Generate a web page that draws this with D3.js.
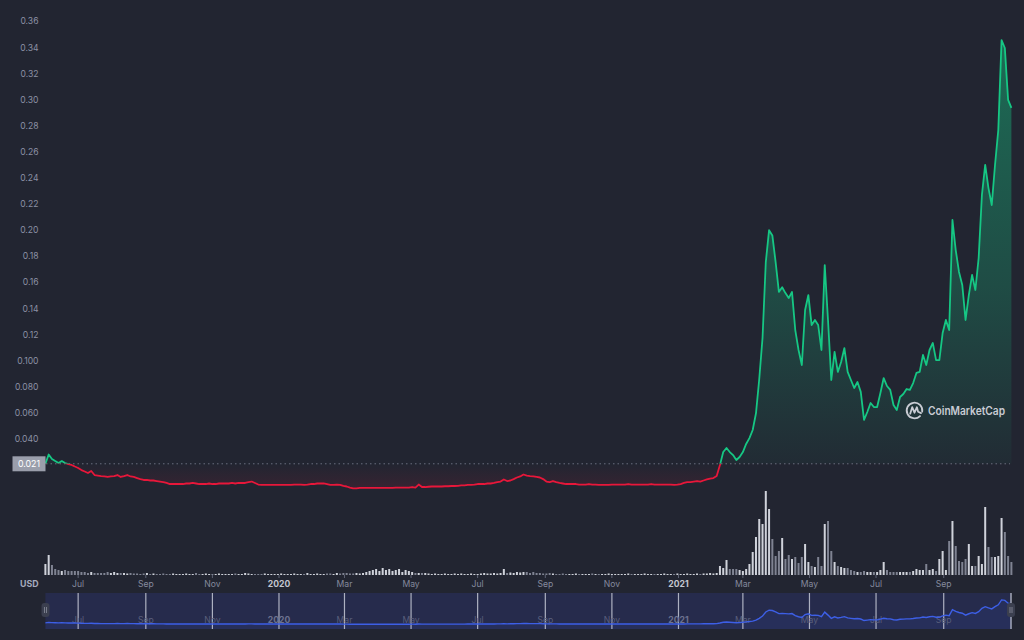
<!DOCTYPE html>
<html><head><meta charset="utf-8">
<script src="https://cdn.jsdelivr.net/npm/d3@7"></script>
<style>html,body{margin:0;padding:0;background:#222531;overflow:hidden}</style>
</head><body>
<svg id="c" width="1024" height="640"></svg>
<script>
// ---------- DATA ----------
const startDate = "2019-06-01";
const stepDays = 3;
const baselinePrice = 0.021;
const baselineLabel = "0.021";
const currency = "USD";
const brand = "CoinMarketCap";

const prices = [
0.0210,0.0281,0.0247,0.0231,0.0216,0.0231,0.0216,0.0208,0.0201,0.0189,
0.0178,0.0162,0.0151,0.0139,0.0155,0.0124,0.0120,0.0116,0.0113,0.0109,
0.0113,0.0116,0.0124,0.0109,0.0116,0.0124,0.0113,0.0109,0.0101,0.0093,
0.0086,0.0086,0.0082,0.0082,0.0078,0.0074,0.0070,0.0063,0.0055,0.0055,
0.0055,0.0055,0.0055,0.0059,0.0059,0.0063,0.0059,0.0055,0.0055,0.0055,
0.0059,0.0055,0.0055,0.0059,0.0059,0.0059,0.0059,0.0063,0.0059,0.0063,
0.0063,0.0063,0.0070,0.0074,0.0063,0.0051,0.0048,0.0048,0.0048,0.0048,
0.0048,0.0048,0.0048,0.0048,0.0048,0.0048,0.0051,0.0051,0.0051,0.0048,
0.0051,0.0055,0.0055,0.0059,0.0059,0.0060,0.0055,0.0048,0.0048,0.0051,
0.0048,0.0040,0.0036,0.0028,0.0021,0.0021,0.0025,0.0025,0.0025,0.0025,
0.0025,0.0025,0.0025,0.0025,0.0025,0.0025,0.0025,0.0028,0.0028,0.0028,
0.0028,0.0028,0.0032,0.0028,0.0051,0.0032,0.0032,0.0034,0.0036,0.0036,
0.0036,0.0036,0.0038,0.0038,0.0040,0.0040,0.0041,0.0044,0.0044,0.0048,
0.0048,0.0051,0.0055,0.0055,0.0055,0.0059,0.0059,0.0063,0.0070,0.0074,
0.0090,0.0078,0.0082,0.0093,0.0105,0.0113,0.0128,0.0120,0.0116,0.0113,
0.0109,0.0105,0.0093,0.0074,0.0070,0.0078,0.0070,0.0063,0.0059,0.0055,
0.0055,0.0055,0.0055,0.0051,0.0051,0.0051,0.0055,0.0051,0.0051,0.0048,
0.0048,0.0048,0.0048,0.0051,0.0051,0.0051,0.0051,0.0051,0.0055,0.0051,
0.0051,0.0051,0.0051,0.0051,0.0051,0.0055,0.0051,0.0051,0.0051,0.0051,
0.0051,0.0051,0.0048,0.0051,0.0055,0.0063,0.0070,0.0070,0.0074,0.0078,
0.0074,0.0082,0.0090,0.0097,0.0101,0.0116,0.0201,0.0300,0.0331,0.0300,
0.0277,0.0239,0.0262,0.0300,0.0362,0.0407,0.0469,0.0597,0.0860,0.1174,
0.1756,0.2000,0.1960,0.1756,0.1527,0.1563,0.1518,0.1480,0.1527,0.1235,
0.1082,0.0967,0.1389,0.1503,0.1273,0.1312,0.1273,0.1082,0.1733,0.1310,
0.0852,0.1067,0.0914,0.0990,0.1097,0.0914,0.0852,0.0791,0.0837,0.0761,
0.0546,0.0607,0.0676,0.0645,0.0645,0.0753,0.0867,0.0806,0.0776,0.0661,
0.0622,0.0722,0.0745,0.0783,0.0776,0.0829,0.0906,0.0914,0.1044,0.0967,
0.1082,0.1136,0.1005,0.1005,0.1212,0.1312,0.1235,0.2078,0.1848,0.1680,
0.1580,0.1312,0.1503,0.1657,0.1542,0.1787,0.2270,0.2500,0.2323,0.2193,
0.2500,0.2768,0.3457,0.3396,0.2998,0.2937
];

// traded volume, relative units
const volumes = [
11,20,10,6,5,4,5,4,4,4,
4,3,3,2,3,2,2,2,2,3,
2,3,2,2,2,1.5,2,1.5,1.5,1,
1.5,2,1,1.5,1,1,1.5,1,1,1.5,
1,1,1,1.5,1,1,2,1,1,1.5,
1,1,1,1.5,1,1,1,1,1.5,1,
1,2,1.5,1,1,1,1,1.5,1,1,
1,1,1.5,1,1,1,1.5,1,1,1,
2,1,1,1.5,1,1,1.5,1.5,1,2,
1.5,2,2,1.5,1.5,2,1.5,2,3,4,
5,6,4,7,5,6,4,5,6,3,
5,4,3,2,2,2,2,1.5,1,1.5,
1,1,1.5,1,1,1.5,1,1.5,1,1,
1.5,1,1,1.5,2,1.5,1.5,2,1.5,2,
6,2,2.5,2,3,2.5,3,3,2,3,
2,2,1.5,1.5,2,1.5,1,1,1.5,1,
1,1,1.5,1,1,1,1,1.5,1,1,
1,1,1.5,1,1,1,1,1,1.5,1,
1,1,1,1.5,1,1,1,1,1,1.5,
1,1,1,1.5,1,1,1.5,1,1,1.5,
1,1.5,1.5,2,1.5,2,9,7,15,6,
6,6,5,4,6,11,23,38,56,51,
84,66,36,19,24,37,16,20,16,18,
12,18,31,13,9,8,18,9,51,54,
24,13,9,8,7,7,5,4,3,3,
4,3,3,3,3,5,13,5,3,3,
3,3,3,3,3,4,6,5,5,11,
5,6,4,16,24,5,34,54,29,14,
13,16,31,9,9,19,11,68,28,18,
18,19,57,43,19,13
];

const yTickValues = [0.04,0.06,0.08,0.10,0.12,0.14,0.16,0.18,0.20,0.22,0.24,0.26,0.28,0.30,0.32,0.34,0.36];
const yTickLabels = ["0.040","0.060","0.080","0.100","0.12","0.14","0.16","0.18","0.20","0.22","0.24","0.26","0.28","0.30","0.32","0.34","0.36"];
const xTickDates = ["2019-07-01","2019-09-01","2019-11-01","2020-01-01","2020-03-01","2020-05-01","2020-07-01","2020-09-01","2020-11-01","2021-01-01","2021-03-01","2021-05-01","2021-07-01","2021-09-01"];
const xTickLabels = ["Jul","Sep","Nov","2020","Mar","May","Jul","Sep","Nov","2021","Mar","May","Jul","Sep"];
const xTickBold = [false,false,false,true,false,false,false,false,false,true,false,false,false,false];

// ---------- CHART ----------
const parse = d3.utcParse("%Y-%m-%d");
const t0 = parse(startDate);
const data = prices.map((p,i)=>({date:d3.utcDay.offset(t0, i*stepDays), price:p, vol:volumes[i], up: i===0 ? true : p>=prices[i-1]}));

const svg = d3.select("#c");
const FONT = "Inter, 'Noto Sans', sans-serif";
const GREEN = "#16c784", RED = "#e8173a";
svg.append("rect").attr("width",1024).attr("height",640).attr("fill","#222531");

const x = d3.scaleUtc().domain([parse("2019-06-01"), parse("2021-11-01")]).range([45.4, 1010.3]);
const y = d3.scaleLinear().domain([0.04, 0.36]).range([439, 21.4]);
const vy = d3.scaleLinear().domain([0, 100]).range([575, 475]);
const baseY = y(baselinePrice);

const defs = svg.append("defs");
const gG = defs.append("linearGradient").attr("id","gGreen").attr("gradientUnits","userSpaceOnUse")
  .attr("x1",0).attr("x2",0).attr("y1",y(0.36)).attr("y2",baseY);
gG.append("stop").attr("offset","0").attr("stop-color",GREEN).attr("stop-opacity",0.45);
gG.append("stop").attr("offset","0.6").attr("stop-color",GREEN).attr("stop-opacity",0.24);
gG.append("stop").attr("offset","1").attr("stop-color",GREEN).attr("stop-opacity",0.04);
const gR = defs.append("linearGradient").attr("id","gRed").attr("gradientUnits","userSpaceOnUse")
  .attr("x1",0).attr("x2",0).attr("y1",baseY).attr("y2",y(0));
gR.append("stop").attr("offset","0").attr("stop-color",RED).attr("stop-opacity",0.0);
gR.append("stop").attr("offset","1").attr("stop-color",RED).attr("stop-opacity",0.12);
defs.append("clipPath").attr("id","above").append("rect").attr("x",0).attr("y",0).attr("width",1024).attr("height",baseY);
defs.append("clipPath").attr("id","below").append("rect").attr("x",0).attr("y",baseY).attr("width",1024).attr("height",200);

// volume bars
svg.append("g").selectAll("rect").data(data).join("rect")
  .attr("x", d=>x(d.date)-1).attr("width",2)
  .attr("y", d=>vy(d.vol)).attr("height", d=>vy(0)-vy(d.vol))
  .attr("fill", d=>d.up ? "#cfd2da" : "#7f8392");

// areas
const area = d3.area().x(d=>x(d.date)).y0(baseY).y1(d=>y(d.price));
svg.append("path").datum(data).attr("d",area).attr("fill","url(#gGreen)").attr("clip-path","url(#above)");
svg.append("path").datum(data).attr("d",area).attr("fill","url(#gRed)").attr("clip-path","url(#below)");

// baseline dotted
svg.append("line").attr("x1",46).attr("x2",1010).attr("y1",baseY).attr("y2",baseY)
  .attr("stroke","#6a6e7e").attr("stroke-width",1).attr("stroke-dasharray","1.5,3");

// lines
const line = d3.line().x(d=>x(d.date)).y(d=>y(d.price));
svg.append("path").datum(data).attr("d",line).attr("fill","none").attr("stroke",GREEN)
  .attr("stroke-width",1.8).attr("stroke-linejoin","round").attr("clip-path","url(#above)");
svg.append("path").datum(data).attr("d",line).attr("fill","none").attr("stroke",RED)
  .attr("stroke-width",1.8).attr("stroke-linejoin","round").attr("clip-path","url(#below)");

// y axis labels
svg.append("g").selectAll("text").data(yTickValues).join("text")
  .attr("x",38.5).attr("y",d=>y(d)).attr("dy","0.35em").attr("text-anchor","end")
  .attr("font-family",FONT).attr("font-size",8.6).attr("fill","#8c91a5")
  .text((d,i)=>yTickLabels[i]);

// baseline label
svg.append("rect").attr("x",12.5).attr("y",baseY-7.5).attr("width",33).attr("height",15).attr("fill","#9a9eab");
svg.append("text").attr("x",29).attr("y",baseY).attr("dy","0.35em").attr("text-anchor","middle")
  .attr("font-family",FONT).attr("font-size",8.8).attr("fill","#ffffff").text(baselineLabel);

// x axis
const xt = xTickDates.map(parse);
svg.append("g").selectAll("line").data(xt).join("line")
  .attr("x1",d=>x(d)).attr("x2",d=>x(d)).attr("y1",575).attr("y2",578).attr("stroke","#5d6274");
svg.append("g").selectAll("text").data(xt).join("text")
  .attr("x",d=>x(d)).attr("y",584).attr("dy","0.35em").attr("text-anchor","middle")
  .attr("font-family",FONT).attr("font-size",8.6)
  .attr("font-weight",(d,i)=>xTickBold[i]?700:400)
  .attr("fill",(d,i)=>xTickBold[i]?"#c3c6d0":"#858a9e")
  .text((d,i)=>xTickLabels[i]);
svg.append("text").attr("x",20).attr("y",584).attr("dy","0.35em")
  .attr("font-family",FONT).attr("font-size",8.8).attr("font-weight",700).attr("fill","#a6abbd").text(currency);

// watermark
const wm = svg.append("g").attr("fill","none").attr("stroke","#c9ccd4").attr("stroke-width",1.8).attr("stroke-linecap","round").attr("stroke-linejoin","round");
const cx = 914.5, cy = 410.5, r = 7.8;
const arc = d3.arc()({innerRadius:r, outerRadius:r, startAngle:Math.PI*0.75, endAngle:Math.PI*2.55});
wm.append("path").attr("transform",`translate(${cx},${cy})`).attr("d",arc);
wm.append("path").attr("d",`M${cx-4.3},${cy+3.2} L${cx-2.3},${cy-3.3} L${cx},${cy+2.2} L${cx+2.4},${cy-3.3} L${cx+3.6},${cy+1.2} L${cx+6.5},${cy+2.6}`);
svg.append("text").attr("x",928).attr("y",415).attr("font-family",FONT).attr("font-size",11.3).attr("font-weight",600)
  .attr("fill","#c9ccd4").attr("textLength",77).attr("lengthAdjust","spacingAndGlyphs").text(brand);

// navigator
const ny = d3.scaleLinear().domain([0, 0.36]).range([624.4, 598.9]);
svg.append("rect").attr("x",45.4).attr("y",593).attr("width",1011.4-45.4).attr("height",36).attr("fill","#262b4c");
svg.append("path").datum(data).attr("d", d3.area().x(d=>x(d.date)).y0(629).y1(d=>ny(d.price)))
  .attr("fill","#3861fb").attr("fill-opacity",0.08);
svg.append("g").selectAll("line").data(xt).join("line")
  .attr("x1",d=>x(d)).attr("x2",d=>x(d)).attr("y1",593).attr("y2",629)
  .attr("stroke","#c5c9d6").attr("stroke-opacity",0.85).attr("stroke-width",1.2);
svg.append("g").selectAll("text").data(xt).join("text")
  .attr("x",d=>x(d)).attr("y",620).attr("dy","0.35em").attr("text-anchor","middle")
  .attr("font-family",FONT).attr("font-size",8.6)
  .attr("font-weight",(d,i)=>xTickBold[i]?700:400)
  .attr("fill",(d,i)=>xTickBold[i]?"#6d7290":"#5a5f7c")
  .text((d,i)=>xTickLabels[i]);
svg.append("path").datum(data).attr("d", d3.line().x(d=>x(d.date)).y(d=>ny(d.price)))
  .attr("fill","none").attr("stroke","#3d5fe6").attr("stroke-width",1.4);
svg.append("line").attr("x1",1011).attr("x2",1011).attr("y1",593).attr("y2",629).attr("stroke","#c5c9d6").attr("stroke-width",1.2);
// handles
[[45.5],[1011]].forEach(([hx])=>{
  svg.append("rect").attr("x",hx-4).attr("y",603).attr("width",8).attr("height",14).attr("rx",3).attr("fill","#3b3f4f");
  svg.append("line").attr("x1",hx-1).attr("x2",hx-1).attr("y1",607).attr("y2",613).attr("stroke","#8a8e9c").attr("stroke-width",0.8);
  svg.append("line").attr("x1",hx+1).attr("x2",hx+1).attr("y1",607).attr("y2",613).attr("stroke","#8a8e9c").attr("stroke-width",0.8);
});
</script>
</body></html>
